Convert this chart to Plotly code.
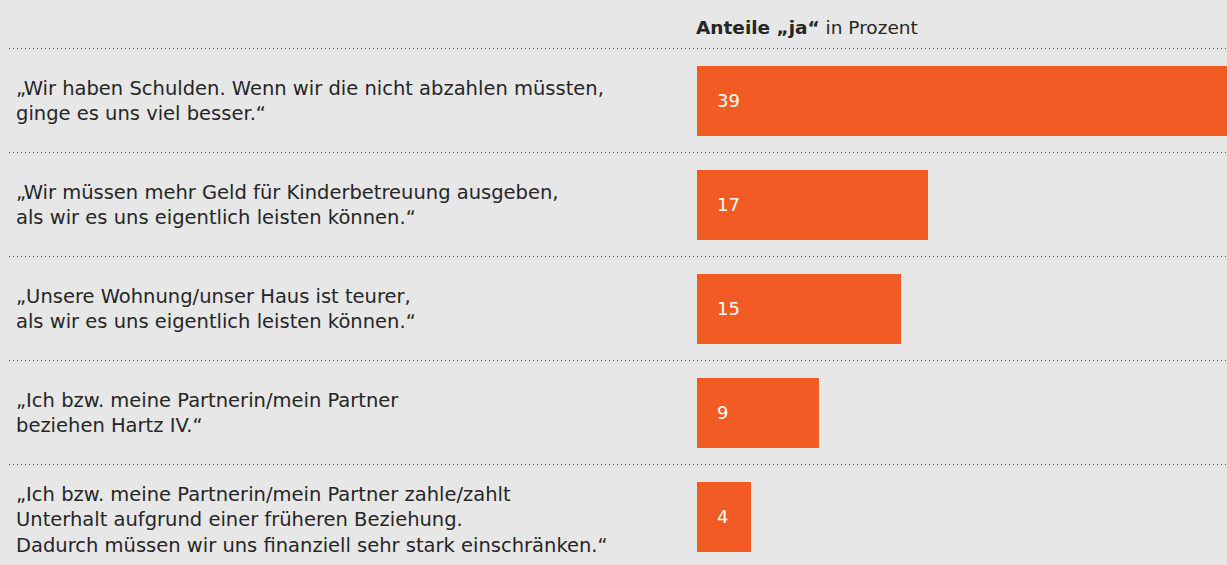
import plotly.graph_objects as go

# Survey statements and share of "ja" answers (percent)
statements = [
    "„Wir haben Schulden. Wenn wir die nicht abzahlen müssten,\nginge es uns viel besser.“",
    "„Wir müssen mehr Geld für Kinderbetreuung ausgeben,\nals wir es uns eigentlich leisten können.“",
    "„Unsere Wohnung/unser Haus ist teurer,\nals wir es uns eigentlich leisten können.“",
    "„Ich bzw. meine Partnerin/mein Partner\nbeziehen Hartz IV.“",
    "„Ich bzw. meine Partnerin/mein Partner zahle/zahlt\nUnterhalt aufgrund einer früheren Beziehung.\nDadurch müssen wir uns finanziell sehr stark einschränken.“",
]
shares = [39, 17, 15, 9, 4]

W, H = 1227, 565
BG = "#e6e7e6"
BAR = "#f25c24"
TEXT = "#262626"
FONT = "DejaVu Sans"

rows = list(range(len(shares)))

fig = go.Figure()
fig.add_trace(go.Bar(
    x=shares,
    y=rows,
    orientation="h",
    width=0.673,
    marker=dict(color=BAR, line=dict(width=0)),
    hoverinfo="skip",
))

# Row layout: first row centre at 100.5 px, 104 px per row
row_px = 104.0
first_px = 100.5
y_top = -first_px / row_px
y_bottom = (H - first_px) / row_px

annotations = []

# Value labels inside the bars
for i, v in enumerate(shares):
    annotations.append(dict(
        x=0, y=i, xref="x", yref="y", text=str(v), showarrow=False,
        xanchor="left", yanchor="middle", xshift=18,
        font=dict(family=FONT, size=18, color="white"),
    ))

# Statement text, one multi-line annotation per row
for i, s in enumerate(statements):
    n = s.count("\n") + 1
    annotations.append(dict(
        x=14 / W, y=i, xref="paper", yref="y", text=s.replace("\n", "<br>"),
        showarrow=False, xanchor="left", yanchor="middle", align="left",
        yshift=-3 if n > 2 else 0,
        font=dict(family=FONT, size=19.5, color=TEXT),
    ))

# Column header
annotations.append(dict(
    x=694 / W, y=1 - 28 / H, xref="paper", yref="paper",
    text="<b>Anteile „ja“</b> in Prozent", showarrow=False,
    xanchor="left", yanchor="middle",
    font=dict(family=FONT, size=18.5, color=TEXT),
))

# Dotted separators between rows
shapes = []
for yy in [-0.5, 0.5, 1.5, 2.5, 3.5]:
    shapes.append(dict(
        type="line", xref="paper", yref="y", x0=9 / W, x1=1, y0=yy, y1=yy,
        line=dict(color="#4d4d4d", width=1, dash="1px,3px"),
    ))

fig.update_layout(
    width=W, height=H,
    margin=dict(l=0, r=0, t=0, b=0),
    paper_bgcolor=BG, plot_bgcolor=BG,
    showlegend=False,
    bargap=0,
    xaxis=dict(domain=[697 / W, 1], range=[0, 39], visible=False, fixedrange=True),
    yaxis=dict(range=[y_bottom, y_top], visible=False, fixedrange=True),
    annotations=annotations,
    shapes=shapes,
)

fig.write_html("out.html", config={"displayModeBar": False})
